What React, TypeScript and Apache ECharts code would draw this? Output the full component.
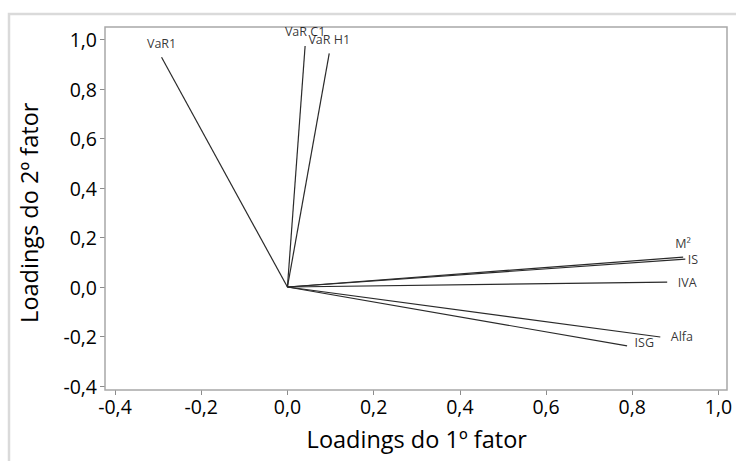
import { useEffect, useRef } from "react";
import * as echarts from "echarts";

// Loadings
const variables = ["VaR1", "VaR C1", "VaR H1", "M²", "IS", "IVA", "Alfa", "ISG"];
const factor1 = [-0.292, 0.041, 0.097, 0.918, 0.923, 0.881, 0.865, 0.788];
const factor2 = [0.928, 0.974, 0.944, 0.121, 0.113, 0.02, -0.202, -0.238];
const axisMin = -0.4;
const axisMax = 1.0;
const axisStep = 0.2;
const xTitle = "Loadings do 1º fator";
const yTitle = "Loadings do 2º fator";

// label placement (style, not data)
const labelPlacement: Record<string, { position: string; distance: number; offset?: number[] }> = {
  "VaR1": { position: "top", distance: 7 },
  "VaR C1": { position: "top", distance: 7 },
  "VaR H1": { position: "top", distance: 7 },
  "M²": { position: "top", distance: 7 },
  "IS": { position: "right", distance: 2 },
  "IVA": { position: "right", distance: 10 },
  "Alfa": { position: "right", distance: 10 },
  "ISG": { position: "right", distance: 7, offset: [0, -3] },
};

const fmt = (v: number) => {
  const r = Math.abs(v) < 1e-9 ? 0 : v;
  return r.toFixed(1).replace(".", ",");
};

const FONT = "'Open Sans', 'Noto Sans', sans-serif";

export default function App() {
  const ref = useRef<HTMLDivElement>(null);
  useEffect(() => {
    if (!ref.current) return;
    const chart = echarts.init(ref.current, undefined, { renderer: "svg" });
    const lineSeries = variables.map((name, i) => ({
      type: "line",
      name,
      data: [
        [0, 0],
        [factor1[i], factor2[i]],
      ],
      symbol: "none",
      lineStyle: { color: "#2a2a2a", width: 1.2 },
      silent: true,
      z: 2,
    }));
    const labelSeries = {
      type: "scatter",
      symbolSize: 1,
      itemStyle: { color: "transparent" },
      silent: true,
      z: 3,
      data: variables.map((name, i) => {
        const p = labelPlacement[name];
        return {
          name,
          value: [factor1[i], factor2[i]],
          label: {
            show: true,
            formatter: name,
            position: p.position,
            distance: p.distance,
            offset: p.offset || [0, 0],
            color: "#000",
            fontSize: 12.5,
            fontFamily: FONT,
          },
        };
      }),
    };
    chart.setOption({
      animation: false,
      backgroundColor: "#ffffff",
      grid: { left: 115, right: 17.5, top: 39.5, bottom: 75 },
      xAxis: {
        type: "value",
        min: axisMin,
        max: axisMax,
        interval: axisStep,
        offset: 4,
        axisLine: { show: false, onZero: false },
        axisTick: { show: true, length: 5, lineStyle: { color: "#8c8c8c", width: 1 } },
        splitLine: { show: false },
        axisLabel: { formatter: fmt, color: "#000", fontSize: 19.5, fontFamily: FONT, margin: 6 },
        name: xTitle,
        nameLocation: "middle",
        nameGap: 37,
        nameTextStyle: { color: "#000", fontSize: 23.5, fontFamily: FONT },
      },
      yAxis: {
        type: "value",
        min: axisMin,
        max: axisMax,
        interval: axisStep,
        offset: 10,
        axisLine: { show: false, onZero: false },
        axisTick: { show: true, length: 5, lineStyle: { color: "#8c8c8c", width: 1 } },
        splitLine: { show: false },
        axisLabel: { formatter: fmt, color: "#000", fontSize: 19.5, fontFamily: FONT, margin: 8 },
        name: yTitle,
        nameLocation: "middle",
        nameRotate: 90,
        nameGap: 64,
        nameTextStyle: { color: "#000", fontSize: 23.5, fontFamily: FONT },
      },
      graphic: [
        {
          type: "rect",
          shape: { x: 9, y: 14, width: 900, height: 700 },
          style: { fill: "none", stroke: "#dadada", lineWidth: 2.5 },
          silent: true,
          z: 0,
        },
        {
          type: "rect",
          shape: { x: 105, y: 27, width: 622, height: 363 },
          style: { fill: "none", stroke: "#a8a8a8", lineWidth: 1.5 },
          silent: true,
          z: 1,
        },
      ],
      series: [...lineSeries, labelSeries],
    });
    return () => chart.dispose();
  }, []);
  return (
    <div
      ref={ref}
      style={{ position: "fixed", left: 0, top: 0, width: 736, height: 461, background: "#fff" }}
    />
  );
}
